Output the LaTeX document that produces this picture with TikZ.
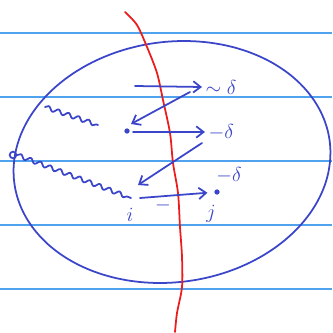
\documentclass[tikz,border=0pt]{standalone}
\usepackage{tikz}
\usetikzlibrary{positioning,arrows.meta,decorations.pathmorphing}
\definecolor{InkBlue}{HTML}{3B45C9}
\definecolor{InkRed}{HTML}{EC1C1C}
\definecolor{RuleBlue}{HTML}{4FA3EE}

\begin{document}
\begin{tikzpicture}[x=0.3mm,y=-0.3mm, ink/.style={InkBlue,line width=1.5pt,line cap=round,line join=round}, wavy/.style={ink,decorate,decoration={snake,amplitude=1.8pt,segment length=9pt}}, dot/.style={circle,fill=InkBlue,inner sep=1.6pt}, lbl/.style={text=InkBlue,font=\LARGE,inner sep=0pt}, >={Straight Barb[length=2.2mm,width=3.4mm]}]
  \useasboundingbox (0,0) rectangle (332,333);
  % ruled paper
  \foreach \y in {33,97,161,225,289}
    \draw[RuleBlue,line width=0.9pt] (0,\y) -- (332,\y);
  % the region and the cut
  \draw[ink] plot[domain=0:360,samples=72,smooth cycle] ({172+158*cos(\x)-12*sin(\x)},{162+121*sin(\x)});
  \draw[InkRed,line width=1.5pt,line cap=round] plot[smooth] coordinates {(125,12) (137,25) (147,47) (157,73) (163,100) (170,133) (173,163) (178,193) (180,227) (182,257) (182,287) (177,313) (175,332)};

  \node (src) [draw=InkBlue,circle,line width=1.5pt,inner sep=2pt] at (13,155) {};
  \node (ip) [dot] at (127,131) {};
  \coordinate (i) at (131,198);
  \node (j) [dot] at (217,192) {};
  \node (ilbl) [lbl] at (130,215) {$i$};
  \node (jlbl) [lbl] at (211,214) {$j$};

  \coordinate (w1) at (45,107);
  \coordinate (w2) at (98,125);
  \coordinate (a1) at (135,86);
  \coordinate (b1) at (202,87);
  \coordinate (d1) at (190,92);
  \coordinate (d1e) at (131,124);
  \coordinate (a2) at (133,132);
  \coordinate (b2) at (205,132);
  \coordinate (d2) at (202,143);
  \coordinate (d2e) at (138,185);
  \coordinate (a3) at (140,198);

  \draw[wavy] (src.east) -- (i);
  \draw[wavy] (w1) -- (w2);
  \draw[ink,->] (a1) -- (b1);
  \draw[ink,->] (d1) -- (d1e);
  \draw[ink,->] (a2) -- (b2);
  \draw[ink,->] (d2) -- (d2e);
  \draw[ink,->,shorten >=2mm] (a3) -- (j);

  \node (s1) [lbl,right=1mm of b1] {$\sim\delta$};
  \node (s2) [lbl,right=1mm of b2] {$-\delta$};
  \node (s3) [lbl] at (229,175) {$-\delta$};
  \node (m3) [lbl] at (163,205) {$-$};
\end{tikzpicture}
\end{document}
